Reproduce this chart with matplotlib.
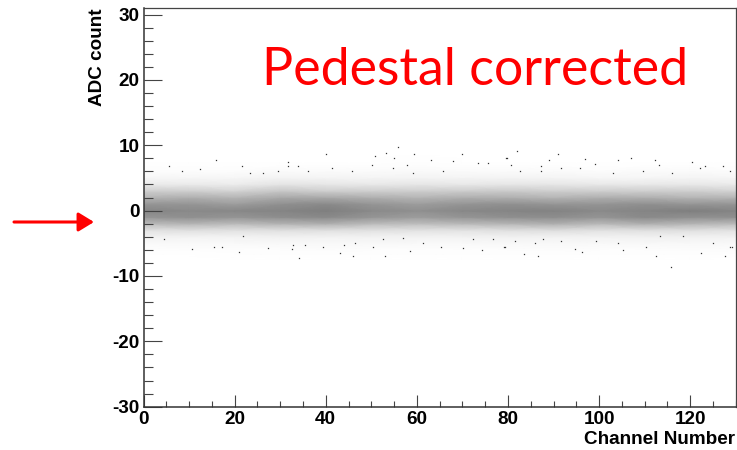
import numpy as np
import matplotlib
matplotlib.use("Agg")
import matplotlib.pyplot as plt
from matplotlib.ticker import MultipleLocator

plt.rcParams["axes.unicode_minus"] = False

channels = [0, 10, 20, 30, 40, 50, 60, 70, 80, 90, 100, 110, 120, 130]
adc_levels = [-8, -7, -6, -5, -4, -3, -2, -1, 0, 1, 2, 3, 4, 5, 6, 7, 8, 9]
darkness = [
    [.00, .00, .00, .00, .00, .00, .00, .00, .00, .00, .00, .00, .00, .00],
    [.00, .00, .01, .01, .01, .01, .01, .01, .01, .01, .01, .01, .01, .00],
    [.01, .02, .02, .02, .03, .02, .02, .02, .02, .03, .02, .02, .03, .02],
    [.05, .05, .05, .06, .06, .06, .05, .05, .06, .06, .05, .06, .06, .05],
    [.11, .10, .10, .12, .11, .11, .11, .11, .12, .11, .11, .12, .12, .11],
    [.20, .22, .21, .22, .22, .21, .20, .20, .22, .23, .21, .22, .22, .20],
    [.38, .40, .38, .41, .42, .38, .37, .39, .40, .42, .39, .42, .40, .38],
    [.50, .52, .50, .53, .54, .50, .48, .50, .52, .53, .50, .54, .52, .52],
    [.56, .54, .55, .56, .58, .54, .52, .55, .56, .57, .54, .56, .58, .56],
    [.50, .50, .48, .52, .54, .50, .48, .50, .52, .50, .50, .52, .50, .50],
    [.40, .42, .40, .44, .44, .42, .40, .42, .42, .40, .42, .42, .40, .40],
    [.30, .30, .28, .33, .30, .30, .30, .31, .32, .30, .30, .30, .30, .28],
    [.16, .16, .15, .19, .18, .17, .18, .17, .18, .18, .17, .17, .17, .16],
    [.07, .08, .08, .10, .09, .09, .10, .09, .10, .09, .08, .08, .09, .08],
    [.03, .03, .03, .04, .04, .04, .05, .04, .04, .04, .03, .04, .04, .03],
    [.01, .01, .01, .01, .01, .01, .02, .01, .01, .01, .01, .01, .01, .01],
    [.00, .00, .00, .00, .00, .00, .01, .00, .00, .00, .00, .00, .00, .00],
    [.00, .00, .00, .00, .00, .00, .00, .00, .00, .00, .00, .00, .00, .00],
]

# single stray points outside the band
stray_channel = [15.9, 82, 91, 97, 89, 107, 112.3, 120.4, 55.8, 53.2, 50.9, 40, 59.3, 69.8,
                 54.9, 31.8, 5.5, 8.4, 12.4, 21.6, 79.5, 80.6, 87.3, 99, 104.2, 113.2,
                 123.3, 127.2, 115.8, 86.6, 83.5, 96.3, 112.5, 122.4, 127.7, 34.2, 43.1,
                 45.9, 53, 32.5, 58.4, 74.4, 10.6, 15.4, 21, 4.4, 17.2, 79.2, 85.9, 94.8,
                 105.2, 110.4, 129.2,
                 31.8, 29.6, 34, 36.2, 41.3, 45.7, 50.1, 54.8, 57.8, 63.2, 68, 73.5, 75.7,
                 79.7, 65.8, 59.2, 23.4, 26.3,
                 21.9, 27.4, 35.4, 39.5, 46.4, 50.4, 52.6, 57, 61.4, 65.4, 70.2, 72.4,
                 76.8, 79.3, 43.9, 32.9,
                 87.3, 82.6, 91.7, 95.8, 103.1, 109.7, 115.9, 122.1, 128.7,
                 81.5, 87.7, 91.7, 99.4, 104.2, 113.3, 118.4, 125, 128.7]
stray_adc = [7.8, 9.1, 8.6, 7.9, 7.7, 8, 7.8, 7.4, 9.8, 8.8, 8.4, 8.7, 8.7, 8.7,
             8, 7.5, 6.8, 6, 6.3, 6.9, 8.1, 7, 6.8, 7.1, 7.7, 7,
             6.8, 6.9, -8.6, -6.9, -6.6, -6.4, -6.9, -6.5, -6.9, -7.3, -6.5,
             -7, -7, -5.8, -6.2, -6.1, -5.9, -5.6, -6.4, -4.4, -5.6, -5.5, -5, -5.9,
             -6, -5.6, -5.6,
             6.8, 6, 6.8, 6, 6.5, 6, 7, 6.5, 7, 7.7, 7.6, 7.3, 7.3,
             8.1, 6, 5.8, 5.8, 5.8,
             -3.9, -5.7, -5.2, -5.5, -5, -5.5, -4.4, -4.2, -5, -5.5, -5.7, -4.4,
             -4.4, -5.5, -5.2, -5.2,
             6, 6, 6.5, 6.5, 5.8, 6, 5.8, 6.5, 6,
             -4.7, -4.4, -4.7, -4.7, -5, -3.9, -3.9, -5, -5.5]

fig_w, fig_h = 737, 450
fig = plt.figure(figsize=(fig_w / 100, fig_h / 100), dpi=100)
ax = fig.add_axes([143.5 / fig_w, 1 - 406.7 / fig_h, 592.3 / fig_w, 398.7 / fig_h])

ax.pcolormesh(channels, adc_levels, np.array(darkness), shading="gouraud",
              cmap="Greys", vmin=0, vmax=1, rasterized=True)
ax.plot(stray_channel, stray_adc, linestyle="none", marker="s", markersize=0.9,
        markeredgewidth=0, color="#333333")

ax.set_xlim(0, 130)
ax.set_ylim(-30, 31)
ax.xaxis.set_major_locator(MultipleLocator(20))
ax.xaxis.set_minor_locator(MultipleLocator(5))
ax.yaxis.set_major_locator(MultipleLocator(10))
ax.yaxis.set_minor_locator(MultipleLocator(2))

tick_font = {"family": "Liberation Sans", "weight": "bold", "size": 13.6}
ax.tick_params(axis="x", which="major", direction="in", length=8.6, width=0.8, color="#444444", pad=3)
ax.tick_params(axis="x", which="minor", direction="in", length=4.3, width=0.8, color="#444444")
ax.tick_params(axis="y", which="major", direction="in", length=13, width=0.8, color="#444444", pad=3)
ax.tick_params(axis="y", which="minor", direction="in", length=6.5, width=0.8, color="#444444")
for label in ax.get_xticklabels() + ax.get_yticklabels():
    label.set_fontproperties(matplotlib.font_manager.FontProperties(**tick_font))

for side in ["left", "bottom"]:
    ax.spines[side].set_linewidth(1.1)
    ax.spines[side].set_color("#333333")
for side in ["top", "right"]:
    ax.spines[side].set_linewidth(0.9)
    ax.spines[side].set_color("#444444")

fig.text(735 / fig_w, 1 - 439 / fig_h, "Channel Number", ha="right", va="center",
         color="black", **tick_font)
fig.text(97 / fig_w, 1 - 8 / fig_h, "ADC count", rotation=90, ha="center", va="top",
         color="black", **tick_font)

fig.text(262 / fig_w, 1 - 85 / fig_h, "Pedestal corrected", color="#ff0000",
         family="Lato", size=37.4, ha="left", va="baseline")

fig.add_artist(matplotlib.patches.FancyArrowPatch(
    (14 / fig_w, 1 - 222 / fig_h), (94 / fig_w, 1 - 222 / fig_h),
    transform=fig.transFigure, arrowstyle="-|>,head_length=3.6,head_width=2.2",
    color="#ff0000", linewidth=2.2, shrinkA=0, shrinkB=0, mutation_scale=2.6))

fig.savefig("out.png", dpi=100)
